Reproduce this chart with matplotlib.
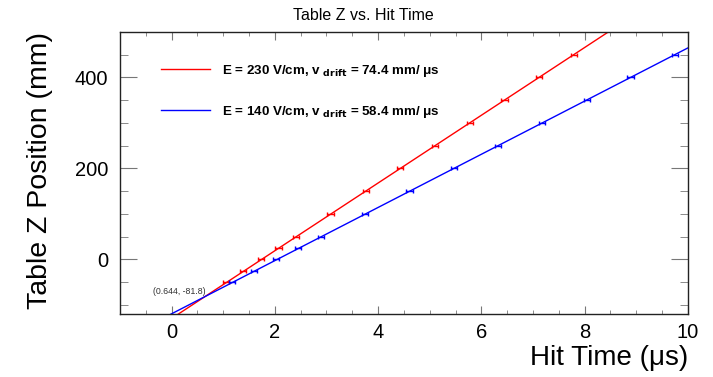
import numpy as np
import matplotlib
matplotlib.use("Agg")
import matplotlib.pyplot as plt
from matplotlib.lines import Line2D
from matplotlib.ticker import MultipleLocator

plt.rcParams["font.family"] = ["Liberation Sans", "DejaVu Sans"]

# table z positions (mm) and measured hit times (us)
z_pos = [-50, -25, 0, 25, 50, 100, 150, 200, 250, 300, 350, 400, 450]
t_230 = [1.05, 1.38, 1.73, 2.07, 2.41, 3.08, 3.76, 4.43, 5.10, 5.78, 6.45, 7.12, 7.79]
t_140 = [1.17, 1.59, 2.02, 2.45, 2.89, 3.75, 4.61, 5.47, 6.32, 7.18, 8.04, 8.89, 9.75]
t_err = 0.06

# fit results
v_230 = 74.4
v_140 = 58.4
cross_t, cross_z = 0.644, -81.8

x_ticks = [0, 2, 4, 6, 8, 10]
y_ticks = [0, 200, 400]

fig = plt.figure(figsize=(7.13, 3.77), dpi=100)
ax = fig.add_axes([0.1683, 0.167, 0.7967, 0.7485])

fit_t = np.array([-1.0, 10.5])
ax.plot(fit_t, v_230 * (fit_t - cross_t) + cross_z, color="red", lw=1)
ax.plot(fit_t, v_140 * (fit_t - cross_t) + cross_z, color="blue", lw=1)

ax.errorbar(t_230, z_pos, xerr=t_err, fmt="none", ecolor="red",
            elinewidth=1, capsize=1.5, capthick=1)
ax.errorbar(t_140, z_pos, xerr=t_err, fmt="none", ecolor="blue",
            elinewidth=1, capsize=1.5, capthick=1)

ax.annotate("(%.3f, %.1f)" % (cross_t, cross_z), xy=(cross_t, cross_z),
            xytext=(-37.5, 4), textcoords="offset points",
            ha="left", va="center", fontsize=6.3, color="#333333")

ax.set_xlim(-1, 10.005)
ax.set_ylim(-120, 500)
ax.set_xticks(x_ticks, labels=[str(v) for v in x_ticks])
ax.set_yticks(y_ticks, labels=[str(v) for v in y_ticks])
ax.xaxis.set_minor_locator(MultipleLocator(0.5))
ax.yaxis.set_minor_locator(MultipleLocator(50))

ax.tick_params(axis="both", which="both", direction="in", top=True, right=True,
               color="#777777", labelsize=14.5)
ax.tick_params(axis="x", which="major", length=5.8, pad=6.5)
ax.tick_params(axis="x", which="minor", length=2.9)
ax.tick_params(axis="y", which="major", length=12, pad=8.6)
ax.tick_params(axis="y", which="minor", length=5.8)
for sp in ax.spines.values():
    sp.set_color("#222222")
    sp.set_linewidth(1)

ax.set_xlabel("Hit Time (μs)", fontsize=20, loc="right")
ax.xaxis.set_label_coords(1.0, -0.11)
ax.set_ylabel("Table Z Position (mm)", fontsize=20.5, loc="top")
ax.yaxis.set_label_coords(-0.118, 1.0)

fig.text(0.509, 0.960, "Table Z vs. Hit Time", ha="center", va="center",
         fontsize=11.5)

handles = [Line2D([], [], color="red", lw=1), Line2D([], [], color="blue", lw=1)]
labels = [
    "E = 230 V/cm, v $_{\\mathbf{drift}}$ = %.1f mm/ μs" % v_230,
    "E = 140 V/cm, v $_{\\mathbf{drift}}$ = %.1f mm/ μs" % v_140,
]
ax.legend(handles, labels, loc="upper left", bbox_to_anchor=(0.072, 0.89),
          frameon=False, borderpad=0, borderaxespad=0, handlelength=3.7,
          handletextpad=0.85, labelspacing=1.85,
          prop={"weight": "bold", "size": 9.6})

fig.savefig("out.png", dpi=100)
